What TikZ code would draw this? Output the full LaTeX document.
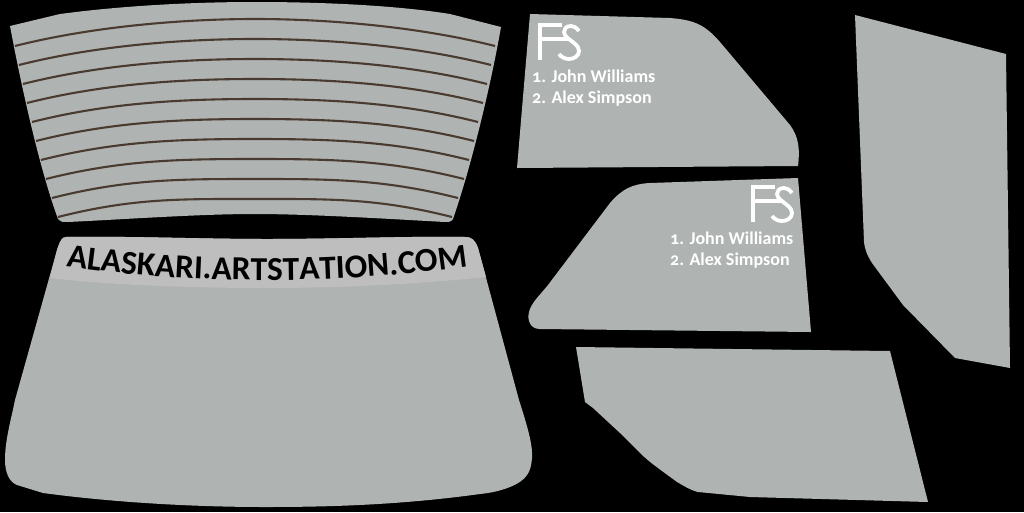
\documentclass[tikz,border=0pt]{standalone}
\usepackage{fontspec}
\setmainfont[Numbers=OldStyle]{Carlito}
\usetikzlibrary{decorations.text}
\definecolor{glass}{HTML}{AFB3B1}
\definecolor{band}{HTML}{BEBEBE}
\definecolor{wire}{HTML}{4A3B30}
\tikzset{
  glasspart/.style={fill=glass,draw=none},
  wireline/.style={draw=wire,line width=2.1pt},
  logo/.style={draw=white,line width=3.8pt,fill=none},
  credits/.style={text=white,font=\bfseries\fontsize{18}{21.5}\selectfont,align=left,inner sep=0pt,anchor=north west}
}
\newcommand{\fslogo}[2]{%
  \begin{scope}[shift={(#1,#2)}]
    \draw[logo] (22,1) -- (0,1) -- (0,36) (0,15) -- (29,15);
    \draw[logo] (39,7) .. controls (36,3) and (33,2) .. (31,2) .. controls (26,2) and (24,5) .. (24,8)
      .. controls (24,12) and (29,15) .. (34,19) .. controls (38,22) and (39,25) .. (39,27)
      .. controls (39,32) and (34,35) .. (29,35) .. controls (25,35) and (21,33) .. (19,30);
  \end{scope}}
\begin{document}
\begin{tikzpicture}[x=1pt,y=-1pt]
\useasboundingbox (0,0) rectangle (1024,512);
\fill[black] (0,0) rectangle (1024,512);
% rear window
\path[glasspart] (10,26) -- (60,14) .. controls (120,6) and (190,2) .. (255,2) .. controls (330,2) and (400,6) .. (450,14) -- (501,27)
  .. controls (490,90) and (470,170) .. (453,219) .. controls (451,222) and (449,222) .. (445,222)
  .. controls (390,219) and (310,214) .. (255,214) .. controls (200,214) and (130,219) .. (68,222) .. controls (62,222) and (60,222) .. (58,219)
  .. controls (40,170) and (22,90) .. (10,26) -- cycle;
\foreach \lx/\ly/\cy in {15/46/19,19/65/39,23/84/59,27/103/79,32/122/99,36/141/119,41/160/139,46/179/159,52/198/179,58/217/199}{
  \pgfmathsetmacro{\rx}{510-\lx}
  \draw[wireline] (\lx,\ly) .. controls (\lx+75,\ly-19) and (180,\cy) .. (255,\cy) .. controls (330,\cy) and (\rx-75,\ly-19) .. (\rx,\ly);
}
% windscreen
\path[glasspart] (66,237) .. controls (130,236) and (200,239) .. (267,239) .. controls (340,239) and (410,236) .. (465,237)
  .. controls (472,237) and (475,240) .. (478,248) -- (519,400) .. controls (527,425) and (533,445) .. (532,458)
  .. controls (531,472) and (527,480) .. (510,487) .. controls (500,491) and (490,493) .. (480,494) .. controls (400,505) and (330,507) .. (265,507)
  .. controls (190,507) and (110,502) .. (43,493) -- (17,485) .. controls (9,482) and (5,472) .. (5,460)
  .. controls (5,440) and (11,420) .. (15,400) -- (57,250) .. controls (60,241) and (62,237) .. (66,237) -- cycle;
\path[fill=band] (66,237) .. controls (130,236) and (200,239) .. (267,239) .. controls (340,239) and (410,236) .. (465,237)
  .. controls (472,237) and (475,240) .. (478,248) -- (486,277) .. controls (420,284) and (340,288) .. (267,288)
  .. controls (190,288) and (110,285) .. (50,278) -- (57,250) .. controls (60,241) and (62,237) .. (66,237) -- cycle;
\coordinate (textstart) at (64,266);
\coordinate (textend) at (470,266);
\path[decorate,decoration={text along path,text align=center,
  text={|\fontspec{Carlito}[Numbers=OldStyle]\bfseries\fontsize{33.5}{33.5}\selectfont\color{black}|ALASKARI.ARTSTATION.COM}}]
  (textstart) .. controls (190,285) and (340,285) .. (textend);
% front door glass upper
\path[glasspart] (530,14) -- (670,18) .. controls (695,20) and (705,25) .. (720,42)
  -- (790,125) .. controls (799,137) and (800,150) .. (798,166) -- (517,168) -- cycle;
\fslogo{540}{24}
\node[credits] (listone) at (532,69.5) {1. John Williams\\2. Alex Simpson};
% rear door glass
\path[glasspart] (798,178) -- (811,332) -- (540,329) .. controls (530,329) and (527,320) .. (529,312)
  .. controls (531,303) and (540,295) .. (548,285) -- (610,203) .. controls (622,189) and (632,184) .. (650,183) -- cycle;
\fslogo{753}{186}
\node[credits] (listtwo) at (670,231.5) {1. John Williams\\2. Alex Simpson};
% lower quarter glass
\path[glasspart] (576,347) -- (890,351) -- (928,502) -- (750,497) -- (698,492) .. controls (690,490) and (684,486) .. (677,482)
  .. controls (665,473) and (650,463) .. (640,453) -- (620,433) -- (593,408) -- (585,402) -- cycle;
% right quarter glass
\path[glasspart] (855,15) -- (1006,54) -- (1010,368) -- (955,358) -- (903,305) -- (872,263)
  .. controls (867,255) and (865,250) .. (864,242) -- cycle;
\end{tikzpicture}
\end{document}
